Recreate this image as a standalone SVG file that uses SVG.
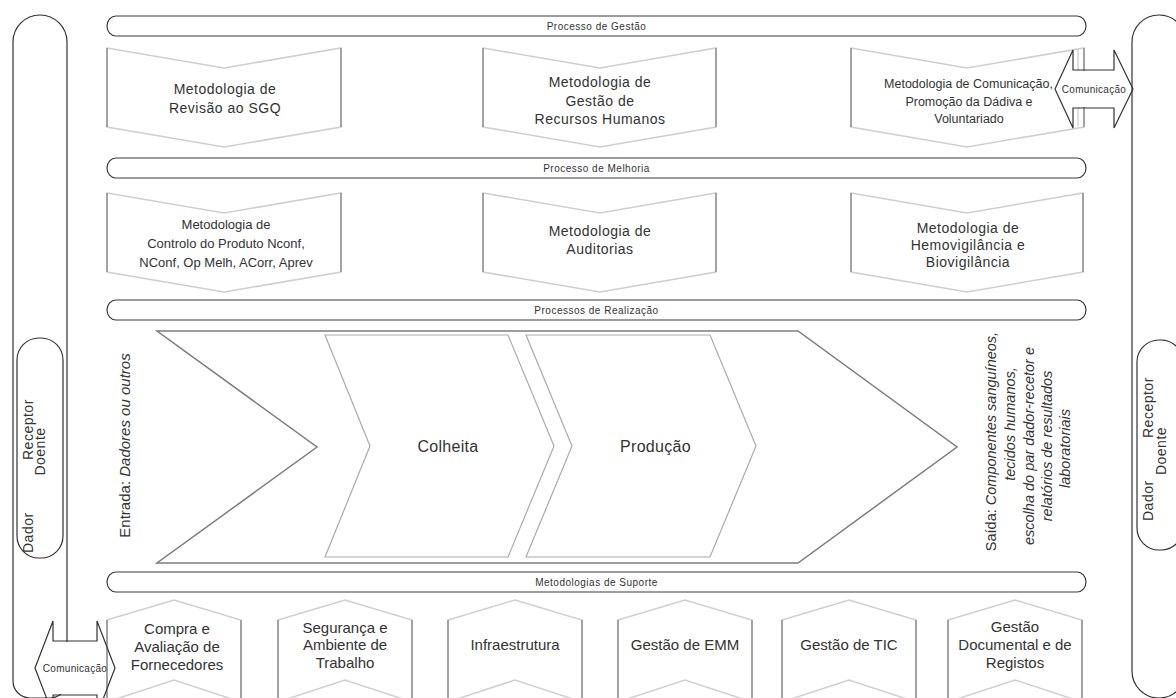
<svg xmlns="http://www.w3.org/2000/svg" width="1176" height="698" viewBox="0 0 1176 698">
  <style>
    text { font-family: "Liberation Sans", Arial, sans-serif; fill: #333; }
    .frame { fill: none; stroke: #333; stroke-width: 1.2; }
    .pill { fill: #fff; stroke: #333; stroke-width: 1.2; }
    .bar { fill: #fff; stroke: #3a3a3a; stroke-width: 1.2; }
    .barlbl { font-size: 10px; letter-spacing: 0.5px; text-anchor: middle; }
    .chev { fill: #fff; stroke: #cfcfcf; stroke-width: 1.5; }
    .side { stroke: #8f8f8f; stroke-width: 1.5; }
    .lbl14 { font-size: 14px; letter-spacing: 0.5px; text-anchor: middle; }
    .lbl13 { font-size: 13px; text-anchor: middle; }
    .lbl15 { font-size: 15px; text-anchor: middle; }
    .big { fill: #fff; stroke: #7d7d7d; stroke-width: 1.5; }
    .step { fill: #fff; stroke: #ababab; stroke-width: 1.2; }
    .steplbl { font-size: 16px; letter-spacing: 0.3px; text-anchor: middle; }
    .rot { font-size: 15px; }
    .side-lbl { font-size: 14px; letter-spacing: 0.5px; }
    .arrow { fill: none; stroke: #333; stroke-width: 1.2; }
    .comm { font-size: 10px; letter-spacing: 0.3px; text-anchor: middle; }
  </style>

  <!-- outer frames: interested parties on both sides -->
  <g id="frame-left">
    <path class="frame" d="M13,42 A27,27 0 0 1 67,42 L67,681 A17,17 0 0 1 50,698 L30,698 A17,17 0 0 1 13,681 Z"/>
    <rect class="pill" x="17" y="338" width="46" height="220" rx="22" ry="22"/>
    <text class="side-lbl" transform="translate(33,553) rotate(-90)">Dador</text>
    <text class="side-lbl" transform="translate(33,460) rotate(-90)">Receptor</text>
    <text class="side-lbl" text-anchor="middle" transform="translate(45,451.5) rotate(-90)">Doente</text>
  </g>

  <g id="frame-right">
    <path class="frame" d="M1132,42 A27,27 0 0 1 1186,42 L1186,671 A27,27 0 0 1 1159,698 A27,27 0 0 1 1132,671 Z"/>
    <rect class="pill" x="1137" y="340" width="46" height="210" rx="22" ry="22"/>
    <text class="side-lbl" transform="translate(1153,521) rotate(-90)">Dador</text>
    <text class="side-lbl" transform="translate(1153,438) rotate(-90)">Receptor</text>
    <text class="side-lbl" text-anchor="middle" transform="translate(1166,451) rotate(-90)">Doente</text>
  </g>

  <!-- process bands -->
  <g id="band-gestao">
    <rect class="bar" x="107" y="16" width="979" height="20" rx="9" ry="10"/>
    <text class="barlbl" x="596.5" y="29.5">Processo de Gestão</text>
  </g>
  <g id="band-melhoria">
    <rect class="bar" x="107" y="158" width="979" height="20" rx="9" ry="10"/>
    <text class="barlbl" x="596.5" y="171.5">Processo de Melhoria</text>
  </g>
  <g id="band-realizacao">
    <rect class="bar" x="107" y="300" width="979" height="20" rx="9" ry="10"/>
    <text class="barlbl" x="596.5" y="313.5">Processos de Realização</text>
  </g>
  <g id="band-suporte">
    <rect class="bar" x="107" y="572" width="979" height="20" rx="9" ry="10"/>
    <text class="barlbl" x="596.5" y="585.5">Metodologias de Suporte</text>
  </g>

  <!-- management methodologies -->
  <g id="m-revisao">
    <polygon class="chev" points="107,48 224,68 341,48 341,127 224,147 107,127"/>
    <line class="side" x1="107" y1="48" x2="107" y2="127"/>
    <line class="side" x1="341" y1="48" x2="341" y2="127"/>
    <text class="lbl14" x="225" y="94">Metodologia de</text>
    <text class="lbl14" x="225" y="113">Revisão ao SGQ</text>
  </g>
  <g id="m-rh">
    <polygon class="chev" points="483,48 600,68 716,48 716,127 600,147 483,127"/>
    <line class="side" x1="483" y1="48" x2="483" y2="127"/>
    <line class="side" x1="716" y1="48" x2="716" y2="127"/>
    <text class="lbl14" x="600" y="87">Metodologia de</text>
    <text class="lbl14" x="600" y="106">Gestão de</text>
    <text class="lbl14" x="600" y="124">Recursos Humanos</text>
  </g>
  <g id="m-comunicacao">
    <polygon class="chev" points="851,48 967,68 1084,48 1084,127 967,147 851,127"/>
    <line class="side" x1="851" y1="48" x2="851" y2="127"/>
    <line stroke="#d4d4d4" stroke-width="1.5" x1="1078" y1="49" x2="1078" y2="126"/>
    <line class="side" x1="1084" y1="48" x2="1084" y2="127"/>
    <text font-size="12.5" text-anchor="middle" x="968.5" y="88">Metodologia de Comunicação,</text>
    <text font-size="12.5" text-anchor="middle" x="969" y="106">Promoção da Dádiva e</text>
    <text font-size="12.5" text-anchor="middle" x="969" y="123">Voluntariado</text>
  </g>

  <!-- improvement methodologies -->
  <g id="m-controlo">
    <polygon class="chev" points="107,193 224,213 341,193 341,272 224,292 107,272"/>
    <line class="side" x1="107" y1="193" x2="107" y2="272"/>
    <line class="side" x1="341" y1="193" x2="341" y2="272"/>
    <text class="lbl13" x="226" y="229">Metodologia de</text>
    <text class="lbl13" x="226" y="248">Controlo do Produto Nconf,</text>
    <text class="lbl13" x="226" y="267">NConf, Op Melh, ACorr, Aprev</text>
  </g>
  <g id="m-auditorias">
    <polygon class="chev" points="483,193 600,213 716,193 716,272 600,292 483,272"/>
    <line class="side" x1="483" y1="193" x2="483" y2="272"/>
    <line class="side" x1="716" y1="193" x2="716" y2="272"/>
    <text class="lbl14" x="600" y="236">Metodologia de</text>
    <text class="lbl14" x="600" y="254">Auditorias</text>
  </g>
  <g id="m-hemovigilancia">
    <polygon class="chev" points="851,193 967,213 1083,193 1083,272 967,292 851,272"/>
    <line class="side" x1="851" y1="193" x2="851" y2="272"/>
    <line class="side" x1="1083" y1="193" x2="1083" y2="272"/>
    <text class="lbl14" x="968" y="233">Metodologia de</text>
    <text class="lbl14" x="968" y="250">Hemovigilância e</text>
    <text class="lbl14" x="968" y="267">Biovigilância</text>
  </g>

  <!-- realisation chain -->
  <g id="realizacao">
    <polygon class="big" points="157,331 798,331 957,447 798,563 157,563 317,447"/>
    <text class="rot" text-anchor="middle" transform="translate(130,445.5) rotate(-90)">Entrada: <tspan font-style="italic">Dadores ou outros</tspan></text>
  </g>
  <g id="colheita">
    <polygon class="step" points="325,335 508,335 554,446 508,557 325,557 370,446"/>
    <text class="steplbl" x="448" y="451.5">Colheita</text>
  </g>
  <g id="producao">
    <polygon class="step" points="526,335 710,335 756,446 710,557 526,557 572,446"/>
    <text class="steplbl" x="655.5" y="451.5">Produção</text>
  </g>
  <g id="saida">
    <text font-size="14.5" text-anchor="middle" transform="translate(996,441.5) rotate(-90)">Saída: <tspan font-style="italic">Componentes sanguíneos,</tspan></text>
    <text font-size="14.5" font-style="italic" text-anchor="middle" transform="translate(1015,424) rotate(-90)">tecidos humanos,</text>
    <text font-size="14.5" font-style="italic" text-anchor="middle" transform="translate(1034,446) rotate(-90)">escolha do par dador-recetor e</text>
    <text font-size="14.5" font-style="italic" text-anchor="middle" transform="translate(1052,446) rotate(-90)">relatórios de resultados</text>
    <text font-size="14.5" font-style="italic" text-anchor="middle" transform="translate(1070,448.5) rotate(-90)">laboratoriais</text>
  </g>

  <!-- support methodologies -->
  <g id="s-compras">
    <polygon class="chev" points="107,620 174,600 241,620 241,702 174,680 107,702"/>
    <line class="side" x1="107" y1="620" x2="107" y2="702"/>
    <line class="side" x1="241" y1="620" x2="241" y2="702"/>
    <text class="lbl15" x="177" y="634">Compra e</text>
    <text class="lbl15" x="177" y="652">Avaliação de</text>
    <text class="lbl15" x="177" y="670">Fornecedores</text>
  </g>
  <g id="s-seguranca">
    <polygon class="chev" points="278,620 345,600 412,620 412,702 345,680 278,702"/>
    <line class="side" x1="278" y1="620" x2="278" y2="702"/>
    <line class="side" x1="412" y1="620" x2="412" y2="702"/>
    <text class="lbl15" x="345" y="633">Segurança e</text>
    <text class="lbl15" x="345" y="650">Ambiente de</text>
    <text class="lbl15" x="345" y="668">Trabalho</text>
  </g>
  <g id="s-infra">
    <polygon class="chev" points="448,620 515,600 582,620 582,702 515,680 448,702"/>
    <line class="side" x1="448" y1="620" x2="448" y2="702"/>
    <line class="side" x1="582" y1="620" x2="582" y2="702"/>
    <text class="lbl15" x="515" y="650">Infraestrutura</text>
  </g>
  <g id="s-emm">
    <polygon class="chev" points="618,620 685,600 752,620 752,702 685,680 618,702"/>
    <line class="side" x1="618" y1="620" x2="618" y2="702"/>
    <line class="side" x1="752" y1="620" x2="752" y2="702"/>
    <text class="lbl15" x="685" y="650">Gestão de EMM</text>
  </g>
  <g id="s-tic">
    <polygon class="chev" points="782,620 849,600 916,620 916,702 849,680 782,702"/>
    <line class="side" x1="782" y1="620" x2="782" y2="702"/>
    <line class="side" x1="916" y1="620" x2="916" y2="702"/>
    <text class="lbl15" x="849" y="650">Gestão de TIC</text>
  </g>
  <g id="s-documental">
    <polygon class="chev" points="948,620 1015,600 1082,620 1082,702 1015,680 948,702"/>
    <line class="side" x1="948" y1="620" x2="948" y2="702"/>
    <line class="side" x1="1082" y1="620" x2="1082" y2="702"/>
    <text class="lbl15" x="1015" y="632">Gestão</text>
    <text class="lbl15" x="1015" y="650">Documental e de</text>
    <text class="lbl15" x="1015" y="668">Registos</text>
  </g>

  <!-- two-way communication links -->
  <g id="connectors">
    <g id="comm-top">
      <polygon class="arrow" points="1055,89 1073,50 1073,70 1114,70 1114,50 1133,89 1114,128 1114,108 1073,108 1073,128"/>
      <rect x="1074" y="71" width="39" height="36" fill="#fff"/>
      <text class="comm" x="1094" y="92.5">Comunicação</text>
    </g>
    <g id="comm-bottom">
      <polygon class="arrow" points="35,668 53,621 53,641 97,641 97,621 115,668 97,715 97,695 53,695 53,715"/>
      <rect x="54" y="642" width="42" height="52" fill="#fff"/>
      <text class="comm" x="75" y="671.5">Comunicação</text>
    </g>
  </g>
</svg>
